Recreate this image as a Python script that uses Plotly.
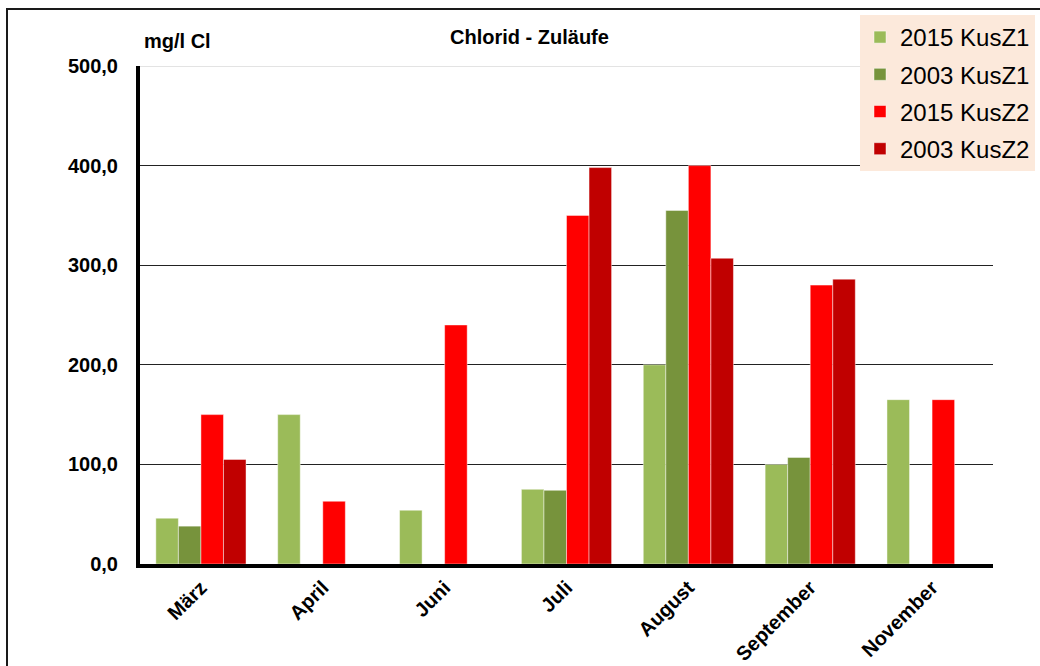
import plotly.graph_objects as go

# Monthly chloride concentrations (mg/l Cl) at the two inflows
months = ["März", "April", "Juni", "Juli", "August", "September", "November"]
kusz1_2015 = [46, 150, 54, 75, 200, 100, 165]
kusz1_2003 = [38, None, None, 74, 355, 107, None]
kusz2_2015 = [150, 63, 240, 350, 400, 280, 165]
kusz2_2003 = [105, None, None, 398, 307, 286, None]

series_names = ["2015 KusZ1", "2003 KusZ1", "2015 KusZ2", "2003 KusZ2"]
series_values = [kusz1_2015, kusz1_2003, kusz2_2015, kusz2_2003]
series_colors = ["#9BBB59", "#77933C", "#FF0000", "#C00000"]

y_ticks = [0, 100, 200, 300, 400, 500]
y_tick_text = ["0,0", "100,0", "200,0", "300,0", "400,0", "500,0"]

W, H = 1040, 666
L, R, T, B = 140, 47, 66, 102
pw, ph = W - L - R, H - T - B


def px_x(x):
    return (x - L) / pw


def px_y(y):
    return (H - B - y) / ph


fig = go.Figure()
for i, (name, vals, col) in enumerate(zip(series_names, series_values, series_colors)):
    fig.add_trace(go.Bar(
        name=name, x=months, y=vals,
        marker=dict(color=col, line=dict(color="rgba(255,255,255,0.45)", width=1)),
        legendgroup=f"g{i}",
    ))

# outer frame of the chart
fig.add_shape(type="rect", xref="paper", yref="paper",
              x0=px_x(7), x1=px_x(1080), y0=px_y(9), y1=px_y(700),
              line=dict(color="#1a1a1a", width=2), layer="below")

# light top border at 500
fig.add_shape(type="line", xref="paper", yref="y", x0=0, x1=1, y0=500, y1=500,
              line=dict(color="#c8c8c8", width=1))

fig.add_annotation(text="<b>Chlorid - Zuläufe</b>", xref="paper", yref="paper",
                   x=px_x(529), y=px_y(37), xanchor="center", yanchor="middle",
                   showarrow=False,
                   font=dict(family="Liberation Sans, Arial", size=20, color="#000"))
fig.add_annotation(text="<b>mg/l Cl</b>", xref="paper", yref="paper",
                   x=px_x(177), y=px_y(41), xanchor="center", yanchor="middle",
                   showarrow=False,
                   font=dict(family="Liberation Sans, Arial", size=20, color="#000"))

fig.update_layout(
    width=W, height=H,
    margin=dict(l=L, r=R, t=T, b=B, autoexpand=False),
    paper_bgcolor="white", plot_bgcolor="white",
    barmode="group", bargap=0.26, bargroupgap=0,
    font=dict(family="Liberation Sans, Arial", color="#000"),
    legend=dict(
        x=px_x(860), y=px_y(15), xanchor="left", yanchor="top",
        bgcolor="#FCE9DB", borderwidth=0,
        font=dict(size=24, color="#000"),
        tracegroupgap=3, traceorder="grouped",
        itemwidth=30,
    ),
    xaxis=dict(
        showline=True, linecolor="#000", linewidth=4,
        tickangle=-45, ticks="",
        tickfont=dict(size=20, weight="bold"),
        showgrid=False, zeroline=False,
    ),
    yaxis=dict(
        range=[0, 500], tickvals=y_ticks, ticktext=y_tick_text,
        showline=True, linecolor="#000", linewidth=4,
        showgrid=True, gridcolor="#222", gridwidth=1,
        tickfont=dict(size=20, weight="bold"),
        ticks="", ticklabelstandoff=14,
        zeroline=False,
    ),
)

fig.write_html("out.html")
